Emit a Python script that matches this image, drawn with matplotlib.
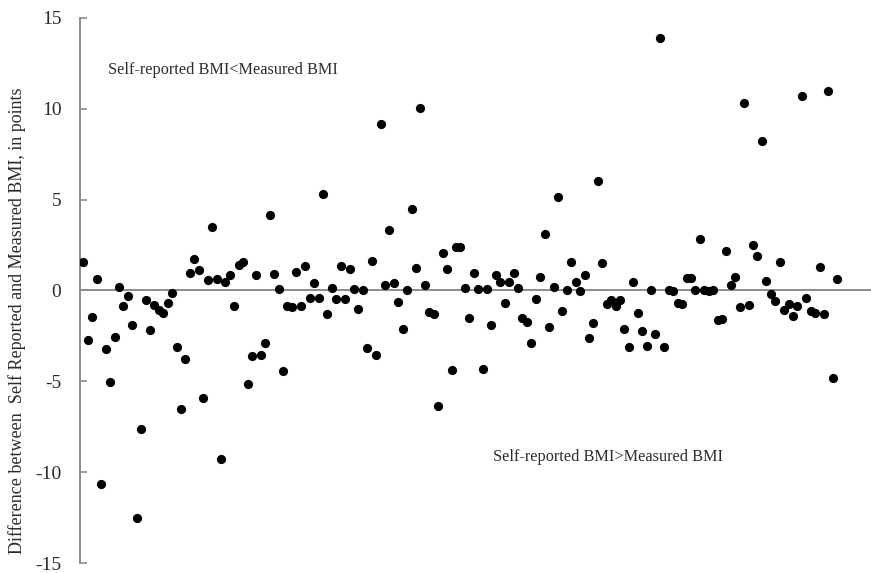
import matplotlib
matplotlib.use("Agg")
import matplotlib.pyplot as plt
import numpy as np

# Difference (self-reported minus measured BMI) for each participant, in order
bmi_difference = [
    1.56, -2.75, -1.47, 0.62, -10.66, -3.24, -5.04, -2.56, 0.18, -0.86,
    -0.33, -1.92, -12.51, -7.60, -0.55, -2.20, -0.79, -1.10, -1.25, -0.68,
    -0.13, -3.11, -6.50, -3.77, 0.99, 1.74, 1.14, -5.93, 0.60, 3.50,
    0.62, -9.30, 0.49, 0.84, -0.84, 1.43, 1.56, -5.13, -3.61, 0.84,
    -3.53, -2.89, 4.16, 0.90, 0.09, -4.45, -0.88, -0.93, 1.03, -0.84,
    1.37, -0.42, 0.44, -0.40, 5.29, -1.30, 0.16, -0.46, 1.37, -0.46,
    1.21, 0.07, -1.03, 0.00, -3.17, 1.65, -3.54, 9.16, 0.33, 3.31,
    0.44, -0.64, -2.12, 0.00, 4.47, 1.23, 10.05, 0.31, -1.19, -1.28,
    -6.34, 2.05, 1.21, -4.40, 2.42, 2.42, 0.16, -1.54, 0.97, 0.09,
    -4.34, 0.09, -1.90, 0.86, 0.49, -0.70, 0.49, 0.95, 0.13, -1.50,
    -1.74, -2.91, -0.49, 0.77, 3.11, -2.00, 0.20, 5.15, -1.14, 0.00,
    1.56, 0.46, -0.05, 0.86, -2.64, -1.78, 6.04, 1.52, -0.77, -0.51,
    -0.88, -0.51, -2.11, -3.13, 0.46, -1.26, -2.24, -3.06, 0.02, -2.42,
    13.88, -3.11, 0.02, -0.02, -0.70, -0.73, 0.71, 0.71, 0.04, 2.84,
    0.00, -0.05, 0.02, -1.65, -1.59, 2.16, 0.33, 0.75, -0.93, 10.33,
    -0.82, 2.53, 1.89, 8.24, 0.53, -0.22, -0.60, 1.57, -1.10, -0.75,
    -1.39, -0.86, 10.71, -0.40, -1.14, -1.25, 1.32, -1.32, 11.00, -4.80,
    0.62,
]
participant = np.arange(1, len(bmi_difference) + 1)

y_ticks = [-15, -10, -5, 0, 5, 10, 15]
y_label = "Difference between  Self Reported and Measured BMI, in points"
note_under = "Self-reported BMI<Measured BMI"
note_over = "Self-reported BMI>Measured BMI"

plt.rcParams["font.family"] = ["Liberation Serif", "DejaVu Serif"]

W, H = 871, 573
fig = plt.figure(figsize=(W / 100, H / 100), dpi=100)
ax = fig.add_axes([79.5 / W, 1 - 563 / H, 1 - 79.5 / W, (563 - 18) / H])

axis_grey = "#8c8c8c"
text_grey = "#2b2b2b"

ax.axhline(0, color=axis_grey, lw=1.4, zorder=1)
ax.scatter(participant, bmi_difference, s=44, color="black", linewidths=0, zorder=3)

ax.set_ylim(-15, 15)
ax.set_xlim(0.1, 178.6)
ax.set_yticks(y_ticks)
ax.set_yticklabels([str(t) for t in y_ticks])
ax.set_xticks([])

for side in ("top", "right", "bottom"):
    ax.spines[side].set_visible(False)
ax.spines["left"].set_color(axis_grey)
ax.spines["left"].set_linewidth(1.4)
ax.tick_params(axis="y", direction="in", length=5, width=1.2, color=axis_grey,
               pad=13, labelsize=14, labelcolor=text_grey)

ax.text(108 / W, 1 - 70 / H, note_under, transform=fig.transFigure,
        fontsize=11.7, color=text_grey, ha="left", va="center")
ax.text(493 / W, 1 - 457 / H, note_over, transform=fig.transFigure,
        fontsize=11.7, color=text_grey, ha="left", va="center")

fig.text(17 / W, 1 - 321 / H, y_label, rotation=90, fontsize=13.0,
         color=text_grey, ha="center", va="center")

fig.savefig("out.png", dpi=100)
